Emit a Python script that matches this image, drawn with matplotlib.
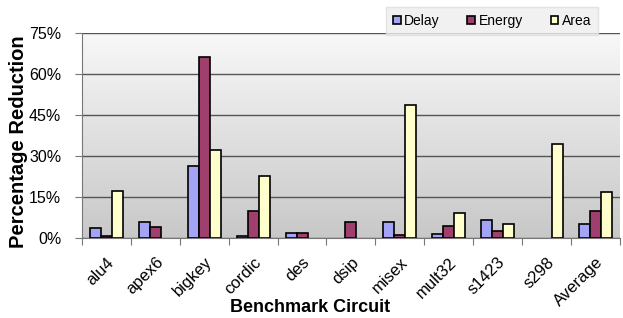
import numpy as np
import matplotlib.pyplot as plt
import matplotlib.ticker as ticker
from matplotlib.colors import LinearSegmentedColormap

plt.rcParams['font.family'] = ['Liberation Sans', 'DejaVu Sans']

# データ
circuits = ['alu4', 'apex6', 'bigkey', 'cordic', 'des', 'dsip', 'misex',
            'mult32', 's1423', 's298', 'Average']
delay = [3.5, 6.0, 26.4, 0.8, 1.7, 0.0, 5.7, 1.5, 6.5, 0.0, 5.1]
energy = [0.8, 4.1, 66.4, 9.9, 2.0, 6.0, 1.0, 4.4, 2.6, 0.0, 9.8]
area = [17.2, 0.0, 32.2, 22.7, 0.0, 0.0, 48.5, 9.0, 5.1, 34.4, 16.8]

fig = plt.figure(figsize=(6.23, 3.18), dpi=100)
ax = fig.add_axes([0.1316, 0.2516, 0.8634, 0.6444])

# 背景のグラデーション
grad = np.linspace(0, 1, 256).reshape(-1, 1)
bg = LinearSegmentedColormap.from_list('bg', ['#c8c8c8', '#f8f8f8'])
ax.imshow(grad, extent=[0, 1, 0, 1], transform=ax.transAxes, aspect='auto',
          cmap=bg, origin='lower', zorder=0)

x = np.arange(len(circuits))
w = 0.225


def lw(vals):
    # 0の棒は枠線なし
    return [1.2 if v > 0 else 0 for v in vals]


ax.bar(x - w, delay, w, color='#a4a4f6', edgecolor='black', linewidth=lw(delay), label='Delay', zorder=3)
ax.bar(x, energy, w, color='#9e3f6e', edgecolor='black', linewidth=lw(energy), label='Energy', zorder=3)
ax.bar(x + w, area, w, color='#ffffcc', edgecolor='black', linewidth=lw(area), label='Area', zorder=3)

ax.set_xlim(-0.5, len(circuits) - 0.5)
ax.set_ylim(0, 75)
ax.yaxis.set_major_locator(ticker.MultipleLocator(15))
ax.yaxis.set_major_formatter(ticker.FuncFormatter(lambda v, p: f'{int(v)}%'))
ax.grid(axis='y', color='#555555', linewidth=1.0, zorder=1)
ax.set_axisbelow(True)

# x軸: 区切りの目盛りとラベル
ax.set_xticks(np.arange(-0.5, len(circuits), 1.0))
ax.set_xticklabels([])
ax.set_xticks(x, minor=True)
ax.set_xticklabels(circuits, minor=True, rotation=45, ha='right', va='top',
                   rotation_mode='anchor', fontsize=12)
ax.tick_params(axis='x', which='minor', length=0, pad=12)
ax.tick_params(axis='x', which='major', length=5, color='#777777')
ax.tick_params(axis='y', length=5, color='#777777', labelsize=11.5, pad=10)

for s in ['top', 'right']:
    ax.spines[s].set_visible(False)
ax.spines['left'].set_color('#777777')
ax.spines['bottom'].set_color('#777777')

ax.set_ylabel('Percentage Reduction', fontsize=14.5, fontweight='bold')
ax.yaxis.set_label_coords(-0.1, 0.47)
ax.set_xlabel('Benchmark Circuit', fontsize=13, fontweight='bold')
ax.xaxis.set_label_coords(0.424, -0.30)

leg = fig.legend(loc='upper left', bbox_to_anchor=(386 / 623, 1 - 7 / 318), ncol=3,
                 fontsize=10, frameon=True, fancybox=False, handlelength=0.55,
                 handleheight=0.55, handletextpad=0.25, columnspacing=2.0,
                 borderpad=0.5, borderaxespad=0)
leg.get_frame().set_facecolor('#eeeeee')
leg.get_frame().set_edgecolor('#dddddd')

fig.savefig('out.png', dpi=100)
